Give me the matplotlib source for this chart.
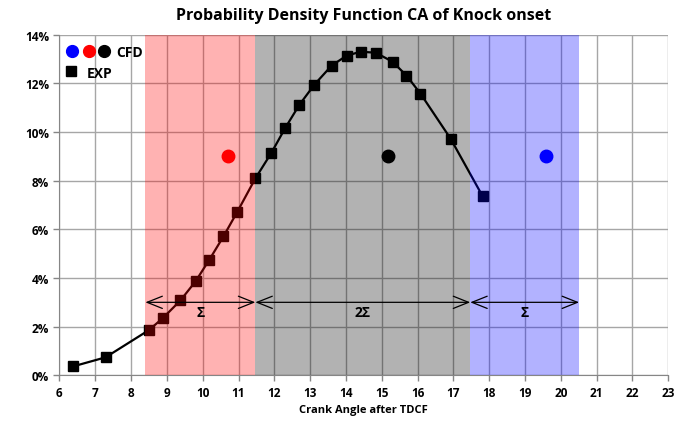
import matplotlib
matplotlib.use("Agg")
import matplotlib.pyplot as plt

plt.rcParams['font.family'] = ['Open Sans', 'DejaVu Sans']

# Experimental knock-onset probability density
exp_ca = [6.39, 7.29, 8.49, 8.88, 9.38, 9.80, 10.19, 10.58, 10.97, 11.47,
          11.92, 12.31, 12.70, 13.12, 13.60, 14.02, 14.41, 14.83, 15.30,
          15.69, 16.08, 16.92, 17.82]
exp_pdf = [0.37, 0.74, 1.85, 2.34, 3.08, 3.86, 4.76, 5.71, 6.73, 8.09,
           9.15, 10.18, 11.12, 11.95, 12.73, 13.14, 13.30, 13.26, 12.89,
           12.32, 11.58, 9.73, 7.35]

# CFD knock onset results
cfd_ca = [10.71, 15.18, 19.58]
cfd_pdf = [9.0, 9.0, 9.0]
cfd_colors = ['red', 'black', 'blue']

# Band limits (mean +/- sigma ranges)
band_edges = [8.40, 11.47, 17.47, 20.51]
band_colors = ['red', 'black', 'blue']
band_labels = ['Σ', '2Σ', 'Σ']
arrow_level = 3.0
label_level = 2.6

x_ticks = list(range(6, 24))
y_ticks = list(range(0, 15, 2))

fig = plt.figure(figsize=(6.83, 4.27), dpi=100)
ax = fig.add_axes([0.087, 0.1187, 0.8915, 0.7977])

ax.set_xlim(6, 23)
ax.set_ylim(0, 14)
ax.set_xticks(x_ticks)
ax.set_yticks(y_ticks)
ax.set_yticklabels([f"{v}%" for v in y_ticks])
ax.grid(True, color='#a6a6a6', linewidth=1.0, zorder=0)
ax.set_axisbelow(True)
for s in ax.spines.values():
    s.set_visible(False)
ax.spines['left'].set_visible(True)
ax.spines['bottom'].set_visible(True)
ax.spines['left'].set_color('#868686')
ax.spines['bottom'].set_color('#868686')
ax.tick_params(axis='both', colors='#868686', length=4, width=1,
               labelcolor='black', labelsize=8.5)
for lab in ax.get_xticklabels() + ax.get_yticklabels():
    lab.set_fontweight('bold')

ax.plot(exp_ca, exp_pdf, color='black', linewidth=1.6, marker='s',
        markersize=7, zorder=3)

# translucent bands over the curve
for i in range(3):
    ax.axvspan(band_edges[i], band_edges[i + 1], color=band_colors[i],
               alpha=0.3, linewidth=0, zorder=4)

for c, x, y in zip(cfd_colors, cfd_ca, cfd_pdf):
    ax.plot(x, y, 'o', color=c, markersize=9, zorder=6)

for i in range(3):
    x0, x1 = band_edges[i], band_edges[i + 1]
    ax.annotate('', xy=(x0, arrow_level), xytext=(x1, arrow_level),
                arrowprops=dict(arrowstyle='<->,head_length=0.55,head_width=0.22',
                                color='black', lw=0.9,
                                mutation_scale=20, shrinkA=0, shrinkB=0),
                zorder=7)
    ax.text((x0 + x1) / 2, label_level, band_labels[i], ha='center',
            va='center', fontsize=10, fontweight='bold', zorder=7)

ax.set_title('Probability Density Function CA of Knock onset',
             fontsize=11.5, fontweight='bold', pad=11)
ax.set_xlabel('Crank Angle after TDCF', fontsize=8, fontweight='bold',
              labelpad=4)

# legend key, placed in the upper-left corner of the plot area
key_circle_x = [0.0207, 0.0488, 0.0734]
for c, kx in zip(['blue', 'red', 'black'], key_circle_x):
    ax.plot(kx, 0.952, 'o', color=c, markersize=8.5,
            transform=ax.transAxes, zorder=8, clip_on=False)
ax.text(0.093, 0.949, 'CFD', transform=ax.transAxes, fontsize=10,
        fontweight='bold', va='center', ha='left', zorder=8)
ax.plot(0.019, 0.893, 's', color='black', markersize=7,
        transform=ax.transAxes, zorder=8, clip_on=False)
ax.text(0.0453, 0.887, 'EXP', transform=ax.transAxes, fontsize=10,
        fontweight='bold', va='center', ha='left', zorder=8)

fig.savefig('out.png', dpi=100)
